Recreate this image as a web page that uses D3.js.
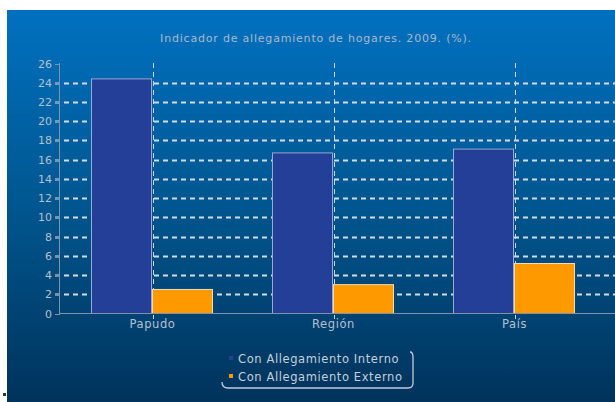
<!DOCTYPE html>
<html><head><meta charset="utf-8">
<script src="https://cdn.jsdelivr.net/npm/d3@7"></script>
<style>html,body{margin:0;padding:0;background:#fff;}svg{display:block;}</style>
</head><body>
<svg id="c" width="615" height="402"></svg>
<script>
const title = "Indicador de allegamiento de hogares. 2009. (%).";
const categories = ["Papudo", "Región", "País"];
const seriesNames = ["Con Allegamiento Interno", "Con Allegamiento Externo"];
const interno = [24.4, 16.7, 17.1];
const externo = [2.5, 3.0, 5.2];
const yTicks = [0,2,4,6,8,10,12,14,16,18,20,22,24,26];
const colors = ["#243f98", "#ff9900"];
const strokes = ["#9aa9cf", "#f3dcb0"];

const svg = d3.select("#c");
const defs = svg.append("defs");
const g = defs.append("linearGradient").attr("id","bg").attr("x1",0).attr("y1",0).attr("x2",0).attr("y2",1);
g.append("stop").attr("offset","0%").attr("stop-color","#0071c0");
g.append("stop").attr("offset","50%").attr("stop-color","#00568f");
g.append("stop").attr("offset","100%").attr("stop-color","#00335c");
svg.append("rect").attr("x",7).attr("y",10).attr("width",608).attr("height",392).attr("fill","url(#bg)");
svg.append("rect").attr("x",3).attr("y",393).attr("width",3).attr("height",3).attr("fill","#333");

const x = d3.scaleBand().domain(categories).range([62, 605]);
const xi = d3.scaleBand().domain(seriesNames).range([29, 151]);
const y = d3.scaleLinear().domain([0, 26]).range([313.5, 63.5]);

const font = "'DejaVu Sans', Verdana, sans-serif";

// title
svg.append("text").attr("x", 316).attr("y", 42).attr("text-anchor","middle")
  .attr("font-family", font).attr("font-size", 11).attr("letter-spacing", 0.8)
  .attr("fill", "#a9b9cc").text(title);

// horizontal dashed gridlines
svg.append("g").selectAll("line").data(yTicks.filter(d=>d>0 && d<26)).join("line")
  .attr("x1", 55).attr("x2", 615).attr("y1", d=>Math.round(y(d))+0.5).attr("y2", d=>Math.round(y(d))+0.5)
  .attr("stroke", "#d2dce6").attr("stroke-width", 2).attr("stroke-dasharray", "5,4");

// vertical dashed category lines
svg.append("g").selectAll("line").data(categories).join("line")
  .attr("x1", d=>Math.round(x(d)+x.bandwidth()/2)+0.5).attr("x2", d=>Math.round(x(d)+x.bandwidth()/2)+0.5)
  .attr("y1", 63).attr("y2", 319)
  .attr("stroke", "#c8d4e0").attr("stroke-width", 1).attr("stroke-dasharray", "5,4");

// bars
const data = categories.map((c,i)=>({c, vals:[interno[i], externo[i]]}));
const groups = svg.append("g").selectAll("g").data(data).join("g")
  .attr("transform", d=>`translate(${x(d.c)},0)`);
groups.selectAll("rect").data(d=>d.vals.map((v,j)=>({v,j}))).join("rect")
  .attr("x", d=>xi(seriesNames[d.j])+0.5).attr("width", xi.bandwidth()-1)
  .attr("y", d=>y(d.v)).attr("height", d=>y(0)-y(d.v))
  .attr("fill", d=>colors[d.j]).attr("stroke", d=>strokes[d.j]).attr("stroke-width", 1);

// axes
const axisColor = "#7f93a8";
svg.append("line").attr("x1",59.5).attr("x2",59.5).attr("y1",63).attr("y2",314).attr("stroke",axisColor);
svg.append("line").attr("x1",59).attr("x2",615).attr("y1",313.5).attr("y2",313.5).attr("stroke",axisColor);
svg.append("g").selectAll("line").data(yTicks).join("line")
  .attr("x1",55).attr("x2",60).attr("y1",d=>Math.round(y(d))+0.5).attr("y2",d=>Math.round(y(d))+0.5)
  .attr("stroke",axisColor);
svg.append("g").selectAll("text").data(yTicks).join("text")
  .attr("x", 52).attr("y", d=>y(d)+4).attr("text-anchor","end")
  .attr("font-family", font).attr("font-size", 11).attr("fill", "#b3c0ce").text(d=>d);
svg.append("g").selectAll("text").data(categories).join("text")
  .attr("x", d=>x(d)+x.bandwidth()/2).attr("y", 328).attr("text-anchor","middle")
  .attr("font-family", font).attr("font-size", 11.5).attr("letter-spacing", 0.6)
  .attr("fill", "#b3c0ce").text(d=>d);

// legend
svg.append("path").attr("d","M222,382 Q222,388 228,388 L408,388 Q413,388 413,383 L413,357 Q413,352 410,352")
  .attr("fill","none").attr("stroke","#c3ccd6").attr("stroke-width",1.3);
const leg = svg.append("g").selectAll("g").data(seriesNames).join("g")
  .attr("transform",(d,i)=>`translate(229,${359+i*18})`);
leg.append("rect").attr("x",0).attr("y",-3).attr("width",4).attr("height",4).attr("fill",(d,i)=>colors[i]);
leg.append("text").attr("x",9).attr("y",4).attr("font-family",font).attr("font-size",11.5)
  .attr("letter-spacing",0.6).attr("fill","#c6cfd9").text(d=>d);
</script>
</body></html>
